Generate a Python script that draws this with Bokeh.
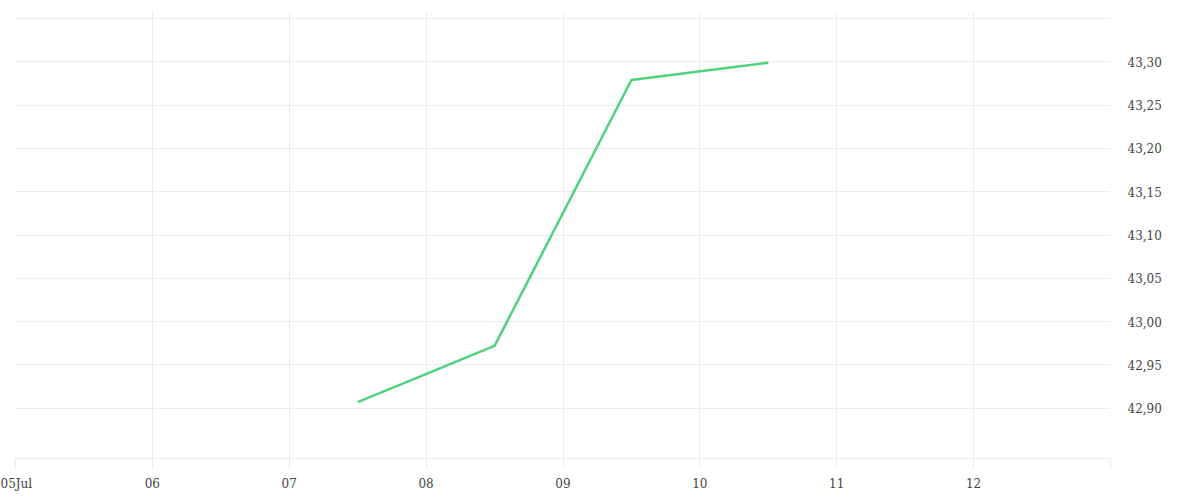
import pandas as pd
from bokeh.plotting import figure
from bokeh.models import Range1d, FixedTicker, CustomJSTickFormatter, ColumnDataSource
from bokeh.embed import file_html
from bokeh.resources import INLINE

# ---- data ----
dates = ["2024-07-07 12:00", "2024-07-08 12:00", "2024-07-09 12:00", "2024-07-10 12:00"]
values = [42.907, 42.972, 43.279, 43.299]
x_tick_days = ["2024-07-05", "2024-07-06", "2024-07-07", "2024-07-08", "2024-07-09",
               "2024-07-10", "2024-07-11", "2024-07-12", "2024-07-13"]
y_label_ticks = [42.90, 42.95, 43.00, 43.05, 43.10, 43.15, 43.20, 43.25, 43.30]
y_grid_ticks = y_label_ticks + [43.35]

FONT = "DejaVu Serif"
GRID = "#ebebeb"
TEXT = "#444444"

x = pd.to_datetime(dates)
src = ColumnDataSource(dict(x=x, y=values))
xt = [int(t) // 10**6 for t in pd.to_datetime(x_tick_days).astype("int64")]

p = figure(
    x_axis_type="datetime",
    frame_width=1095, frame_height=446,
    min_border_left=15, min_border_top=12, min_border_right=75, min_border_bottom=36,
    toolbar_location=None, output_backend="svg",
    y_axis_location="right",
)
p.x_range = Range1d(start=pd.Timestamp(x_tick_days[0]), end=pd.Timestamp(x_tick_days[-1]))
p.y_range = Range1d(start=42.842, end=43.357)
p.outline_line_color = None
p.background_fill_color = "white"
p.border_fill_color = "white"

p.line("x", "y", source=src, line_color="#50d27c", line_width=2.5)

# x axis
xa = p.xaxis[0]
xa.ticker = FixedTicker(ticks=xt)
xa.formatter = CustomJSTickFormatter(code="""
const d = new Date(tick);
const s = String(d.getUTCDate()).padStart(2, '0');
if (index == 0) return s + 'Jul';
if (index == ticks.length - 1) return '';
return s;
""")
xa.axis_line_color = GRID
xa.major_tick_line_color = GRID
xa.major_tick_out = 10
xa.major_tick_in = 0
xa.minor_tick_line_color = None
xa.major_label_standoff = 8
xa.major_label_text_font = FONT
xa.major_label_text_font_size = "12px"
xa.major_label_text_color = TEXT

# y axis
ya = p.yaxis[0]
ya.ticker = FixedTicker(ticks=y_label_ticks)
ya.formatter = CustomJSTickFormatter(code="return tick.toFixed(2).replace('.', ',');")
ya.axis_line_color = None
ya.major_tick_line_color = None
ya.minor_tick_line_color = None
ya.major_tick_out = 0
ya.major_tick_in = 0
ya.major_label_standoff = 17
ya.major_label_text_font = FONT
ya.major_label_text_font_size = "12px"
ya.major_label_text_color = TEXT

# grids
p.xgrid.ticker = FixedTicker(ticks=xt)
p.xgrid.grid_line_color = GRID
p.ygrid.ticker = FixedTicker(ticks=y_grid_ticks)
p.ygrid.grid_line_color = GRID

open("out.html", "w").write(file_html(p, INLINE))
